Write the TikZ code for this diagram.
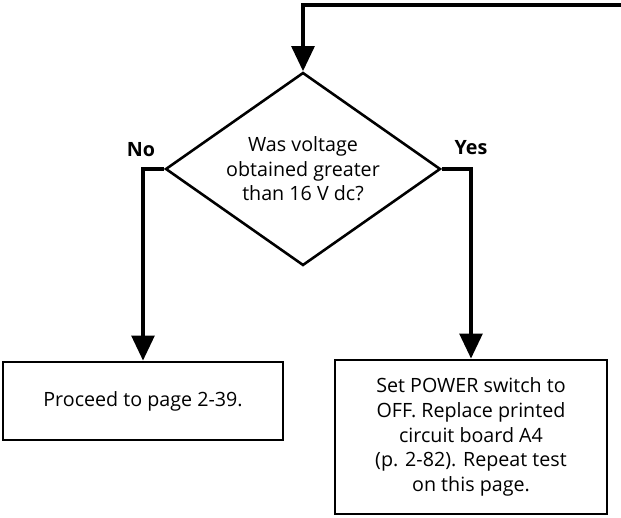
\documentclass[tikz,border=0pt]{standalone}
\usepackage{fontspec}
\setmainfont{Open Sans}
\usetikzlibrary{shapes.geometric,arrows.meta}
\begin{document}
\begin{tikzpicture}[x=1cm,y=1cm,
  flowline/.style={line width=3.2pt,-{Triangle[length=0.75cm,width=0.68cm]}},
  stepbox/.style={draw,line width=2.4pt,align=center,inner sep=0pt},
  txt/.style={font=\fontsize{16.8}{21}\selectfont}]
\path[use as bounding box] (0,0) rectangle (18.63,15.54);
\node[draw,shape=diamond,aspect=1.42,line width=2.2pt,minimum width=8.25cm,minimum height=5.79cm,inner sep=0pt,align=center,txt] (dec) at (9.09,10.47)
  {Was voltage\\obtained greater\\than 16 V dc?};
\node[stepbox,txt,minimum width=8.4cm,minimum height=2.34cm] (proceed) at (4.29,3.51) {Proceed to page 2-39.};
\node[stepbox,txt,minimum width=8.16cm,minimum height=4.62cm] (replace) at (14.13,2.43)
  {Set POWER switch to\\OFF. Replace printed\\circuit board A4\\(p. 2-82). Repeat test\\on this page.};
\coordinate (loopin) at (18.63,15.39);
\node[font=\fontsize{16.8}{21}\selectfont\bfseries] (no) at (4.23,11.04) {No};
\node[font=\fontsize{16.8}{21}\selectfont\bfseries] (yes) at (14.13,11.1) {Yes};
\draw[flowline] (loopin) -| (dec.north);
\draw[flowline] (dec.west) -| (proceed.north);
\draw[flowline] (dec.east) -| (replace.north);
\end{tikzpicture}
\end{document}
